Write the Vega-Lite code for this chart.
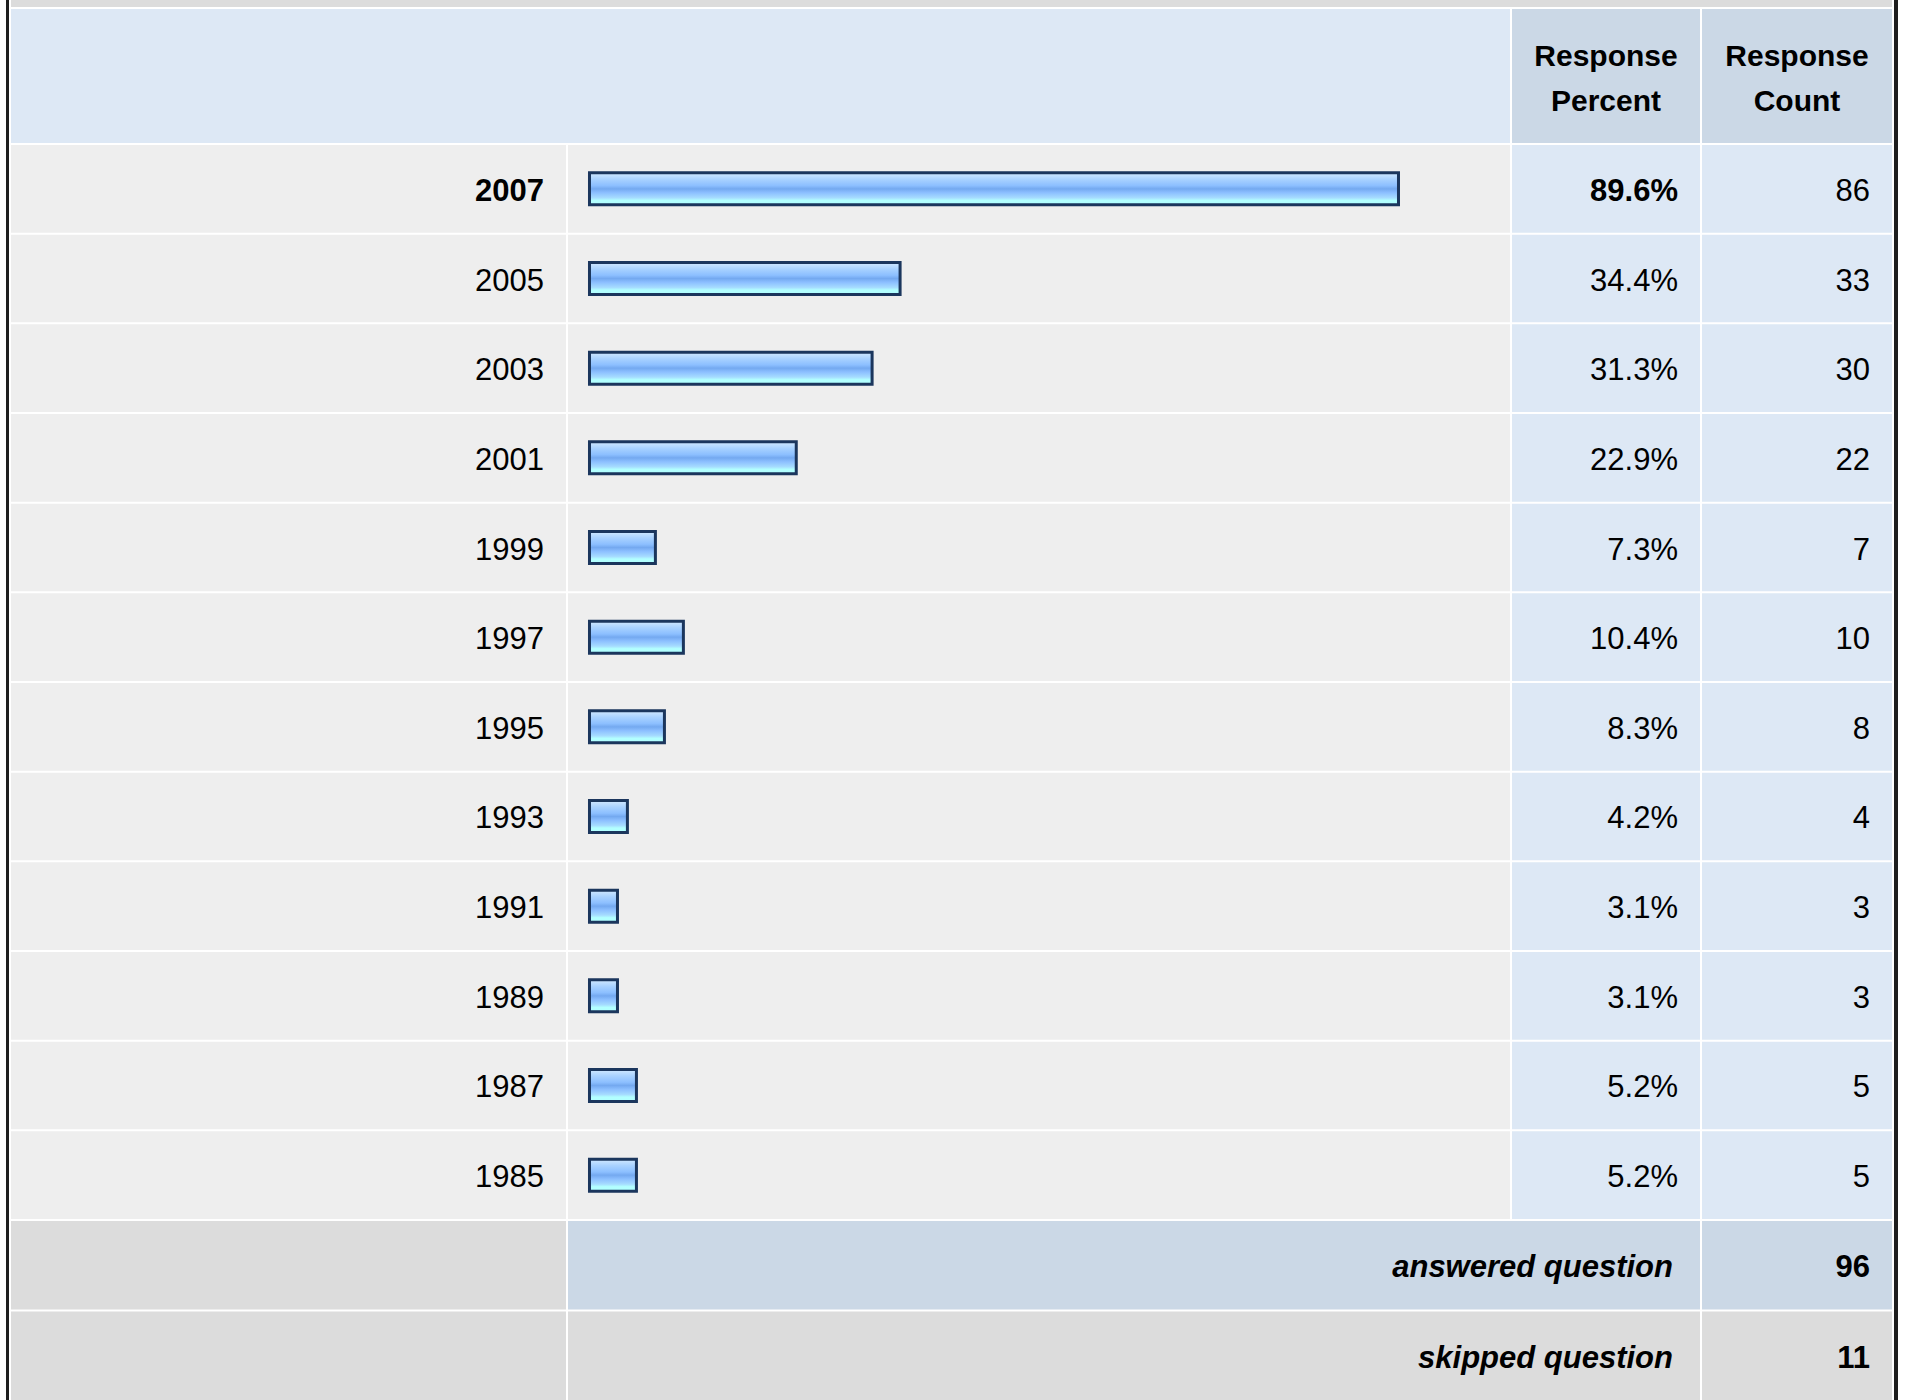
{
  "$schema": "https://vega.github.io/schema/vega-lite/v6.json",
  "padding": {"left": 6, "top": 0, "right": 0, "bottom": 0},
  "background": "white",
  "spacing": 2,
  "config": {
    "view": {"stroke": null},
    "font": "Liberation Sans",
    "text": {"font": "Liberation Sans", "fontSize": 31, "color": "#000000"}
  },
  "datasets": {
    "rows": [
      {"year": "2007", "pct": 0.896, "count": 86},
      {"year": "2005", "pct": 0.344, "count": 33},
      {"year": "2003", "pct": 0.313, "count": 30},
      {"year": "2001", "pct": 0.229, "count": 22},
      {"year": "1999", "pct": 0.073, "count": 7},
      {"year": "1997", "pct": 0.104, "count": 10},
      {"year": "1995", "pct": 0.083, "count": 8},
      {"year": "1993", "pct": 0.042, "count": 4},
      {"year": "1991", "pct": 0.031, "count": 3},
      {"year": "1989", "pct": 0.031, "count": 3},
      {"year": "1987", "pct": 0.052, "count": 5},
      {"year": "1985", "pct": 0.052, "count": 5}
    ],
    "footer": [
      {"label": "answered question", "n": 96},
      {"label": "skipped question", "n": 11}
    ],
    "one": [{"cell": "x"}]
  },
  "hconcat": [
    {
      "width": 3, "height": 1400,
      "data": {"name": "one"},
      "mark": {"type": "rect", "color": "#1e1e1e"},
      "encoding": {}
    },
    {
      "vconcat": [
        {
          "width": 1881, "height": 7,
          "data": {"name": "one"},
          "mark": {"type": "rect", "color": "#dcdcdc"},
          "encoding": {}
        },
        {
          "hconcat": [
            {
              "width": 1499, "height": 134,
              "data": {"name": "one"},
              "mark": {"type": "rect", "color": "#dde8f5"},
              "encoding": {}
            },
            {
              "width": 188, "height": 134,
              "data": {"name": "one"},
              "layer": [
                {"mark": {"type": "rect", "color": "#cbd8e6"}, "encoding": {}},
                {"mark": {"type": "text", "text": ["Response", "Percent"], "fontSize": 30, "fontWeight": "bold", "lineHeight": 45, "baseline": "middle", "align": "center", "dy": -19}, "encoding": {}}
              ]
            },
            {
              "width": 190, "height": 134,
              "data": {"name": "one"},
              "layer": [
                {"mark": {"type": "rect", "color": "#cbd8e6"}, "encoding": {}},
                {"mark": {"type": "text", "text": ["Response", "Count"], "fontSize": 30, "fontWeight": "bold", "lineHeight": 45, "baseline": "middle", "align": "center", "dy": -19}, "encoding": {}}
              ]
            }
          ],
          "spacing": 2
        },
        {
          "hconcat": [
            {
              "width": 555, "height": 1074,
              "data": {"name": "rows"},
              "encoding": {
                "y": {"field": "year", "type": "nominal", "sort": null, "axis": null, "scale": {"paddingInner": 0.0223, "paddingOuter": 0}}
              },
              "layer": [
                {"mark": {"type": "rect", "color": "#eeeeee"}},
                {
                  "transform": [{"filter": "datum.year != '2007'"}],
                  "mark": {"type": "text", "align": "right", "baseline": "middle", "x": "width", "dx": -22, "dy": 3},
                  "encoding": {"text": {"field": "year", "type": "nominal"}}
                },
                {
                  "transform": [{"filter": "datum.year == '2007'"}],
                  "mark": {"type": "text", "align": "right", "baseline": "middle", "x": "width", "dx": -22, "dy": 3, "fontWeight": "bold"},
                  "encoding": {"text": {"field": "year", "type": "nominal"}}
                }
              ]
            },
            {
              "width": 942, "height": 1074,
              "data": {"name": "rows"},
              "encoding": {
                "y": {"field": "year", "type": "nominal", "sort": null, "axis": null, "scale": {"paddingInner": 0.0223, "paddingOuter": 0}}
              },
              "layer": [
                {"mark": {"type": "rect", "color": "#eeeeee"}},
                {
                  "mark": {
                    "type": "bar",
                    "height": 32,
                    "stroke": "#1b365d",
                    "strokeWidth": 3,
                    "color": {
                      "gradient": "linear", "x1": 0, "y1": 0, "x2": 0, "y2": 1,
                      "stops": [
                        {"offset": 0, "color": "#d2e9ff"},
                        {"offset": 0.2, "color": "#a9d2ff"},
                        {"offset": 0.4, "color": "#8cbfff"},
                        {"offset": 0.5, "color": "#74a9f0"},
                        {"offset": 0.62, "color": "#8cbfff"},
                        {"offset": 0.78, "color": "#a6dcff"},
                        {"offset": 0.86, "color": "#b2ffff"},
                        {"offset": 1, "color": "#b2ffff"}
                      ]
                    }
                  },
                  "encoding": {
                    "x": {"field": "pct", "type": "quantitative", "axis": null, "scale": {"domain": [-0.0238, 1.0195], "zero": false, "nice": false}}
                  }
                }
              ]
            },
            {
              "width": 188, "height": 1074,
              "data": {"name": "rows"},
              "encoding": {
                "y": {"field": "year", "type": "nominal", "sort": null, "axis": null, "scale": {"paddingInner": 0.0223, "paddingOuter": 0}}
              },
              "layer": [
                {"mark": {"type": "rect", "color": "#dde8f5"}},
                {
                  "transform": [{"filter": "datum.year != '2007'"}],
                  "mark": {"type": "text", "align": "right", "baseline": "middle", "x": "width", "dx": -22, "dy": 3},
                  "encoding": {"text": {"field": "pct", "type": "quantitative", "format": ".1%"}}
                },
                {
                  "transform": [{"filter": "datum.year == '2007'"}],
                  "mark": {"type": "text", "align": "right", "baseline": "middle", "x": "width", "dx": -22, "dy": 3, "fontWeight": "bold"},
                  "encoding": {"text": {"field": "pct", "type": "quantitative", "format": ".1%"}}
                }
              ]
            },
            {
              "width": 190, "height": 1074,
              "data": {"name": "rows"},
              "encoding": {
                "y": {"field": "year", "type": "nominal", "sort": null, "axis": null, "scale": {"paddingInner": 0.0223, "paddingOuter": 0}}
              },
              "layer": [
                {"mark": {"type": "rect", "color": "#dde8f5"}},
                {
                  "mark": {"type": "text", "align": "right", "baseline": "middle", "x": "width", "dx": -22, "dy": 3},
                  "encoding": {"text": {"field": "count", "type": "quantitative"}}
                }
              ]
            }
          ],
          "spacing": 2
        },
        {
          "hconcat": [
            {
              "width": 555, "height": 179,
              "data": {"name": "footer"},
              "encoding": {
                "y": {"field": "label", "type": "nominal", "sort": null, "axis": null, "scale": {"paddingInner": 0.0222, "paddingOuter": 0}}
              },
              "mark": {"type": "rect", "color": "#dcdcdc"}
            },
            {
              "width": 1132, "height": 179,
              "data": {"name": "footer"},
              "encoding": {
                "y": {"field": "label", "type": "nominal", "sort": null, "axis": null, "scale": {"paddingInner": 0.0222, "paddingOuter": 0}}
              },
              "layer": [
                {
                  "mark": {"type": "rect"},
                  "encoding": {
                    "color": {"condition": {"test": "datum.label == 'answered question'", "value": "#cbd8e6"}, "value": "#dcdcdc"}
                  }
                },
                {
                  "mark": {"type": "text", "align": "right", "baseline": "middle", "x": "width", "dx": -27, "dy": 3, "fontWeight": "bold", "fontStyle": "italic"},
                  "encoding": {"text": {"field": "label", "type": "nominal"}}
                }
              ]
            },
            {
              "width": 190, "height": 179,
              "data": {"name": "footer"},
              "encoding": {
                "y": {"field": "label", "type": "nominal", "sort": null, "axis": null, "scale": {"paddingInner": 0.0222, "paddingOuter": 0}}
              },
              "layer": [
                {
                  "mark": {"type": "rect"},
                  "encoding": {
                    "color": {"condition": {"test": "datum.label == 'answered question'", "value": "#cbd8e6"}, "value": "#dcdcdc"}
                  }
                },
                {
                  "mark": {"type": "text", "align": "right", "baseline": "middle", "x": "width", "dx": -22, "dy": 3, "fontWeight": "bold"},
                  "encoding": {"text": {"field": "n", "type": "quantitative"}}
                }
              ]
            }
          ],
          "spacing": 2
        }
      ],
      "spacing": 2
    },
    {
      "width": 4, "height": 1400,
      "data": {"name": "one"},
      "mark": {"type": "rect", "color": "#1e1e1e"},
      "encoding": {}
    }
  ]
}
